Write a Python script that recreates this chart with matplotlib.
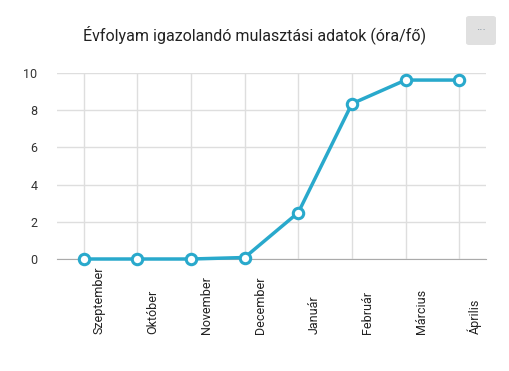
import matplotlib.pyplot as plt
from matplotlib.patches import FancyBboxPatch

honapok = ["Szeptember", "Október", "November", "December", "Január", "Február", "Március", "Április"]
orak = [0, 0, 0, 0.08, 2.5, 8.35, 9.62, 9.62]
y_ticks = [0, 2, 4, 6, 8, 10]

plt.rcParams['font.family'] = ['Roboto', 'DejaVu Sans']

fig = plt.figure(figsize=(5.1, 3.71), dpi=100)
ax = fig.add_axes([57 / 510, 1 - 259 / 371, (486 - 57) / 510, (259 - 73) / 371])

x = list(range(len(honapok)))
ax.plot(x, orak, color="#29a9cc", linewidth=2.5, marker="o", markersize=7.5,
        markerfacecolor="white", markeredgewidth=2.2, markeredgecolor="#29a9cc",
        zorder=3, clip_on=False)

ax.set_xlim(-0.5, len(honapok) - 0.5)
ax.set_ylim(0, 10)
ax.set_yticks(y_ticks)
ax.set_yticklabels([str(v) for v in y_ticks], fontsize=9, color="#333333")
ax.set_xticks(x)
ax.set_xticklabels([])
ax.tick_params(axis="both", length=0)
ax.tick_params(axis="y", pad=14)

ax.grid(True, color="#dedede", linewidth=1)
ax.set_axisbelow(True)
for side in ["top", "right", "left"]:
    ax.spines[side].set_visible(False)
ax.spines["bottom"].set_color("#aaaaaa")

# month labels, rotated, bottom aligned below the axis
for i, h in enumerate(honapok):
    ax.text(i + 0.29, -0.405, h, transform=ax.get_xaxis_transform(), rotation=90,
            ha="center", va="bottom", fontsize=9, color="#222222")

fig.text(255 / 510, 1 - 35 / 371, "Évfolyam igazolandó mulasztási adatok (óra/fő)",
         ha="center", va="center", fontsize=11.5, color="#222222")

# menu button in the corner
btn = FancyBboxPatch((466 / 510, 1 - 45 / 371), 30 / 510, 29 / 371,
                     boxstyle="round,pad=0,rounding_size=0.006",
                     transform=fig.transFigure, facecolor="#e0e0e0", edgecolor="none")
fig.patches.append(btn)
fig.text(481 / 510, 1 - 31 / 371, "···", ha="center", va="center", fontsize=9, color="#8e9ba6")

fig.savefig("out.png", dpi=100)
